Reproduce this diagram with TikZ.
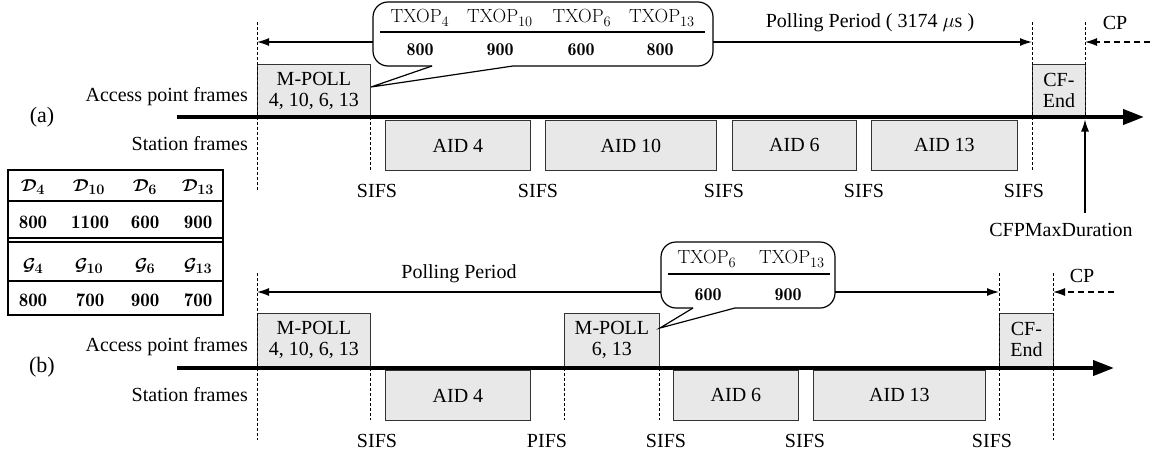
\documentclass[tikz,border=0pt]{standalone}
\usepackage{fontspec}
\setmainfont{Liberation Serif}
\usetikzlibrary{arrows.meta}
\newcommand{\lmf}{\fontfamily{lmr}\selectfont}
\begin{document}
\begin{tikzpicture}[x=1pt,y=-1pt,
  txt/.style={font=\fontsize{20}{21}\selectfont, inner sep=0pt},
  frame/.style={draw=black!80, fill=black!9, line width=0.9pt, inner sep=0pt, align=center,
     font=\fontsize{20}{21}\selectfont, anchor=north west},
  dsh/.style={dash pattern=on 3pt off 2pt, line width=0.8pt},
  axisln/.style={line width=4pt, -{Triangle[length=21pt,width=15pt]}},
  arr/.style={line width=1.2pt, -{Latex[length=12pt,width=8pt]}},
  dasharr/.style={line width=1.2pt, dash pattern=on 6pt off 4pt, -{Latex[length=12pt,width=8pt]}},
  bubble/.style={line width=1.2pt, rounded corners=15pt},
  lmtxt/.style={font=\lmf\fontsize{19}{21}\selectfont, inner sep=0pt},
  lmnum/.style={font=\lmf\fontseries{b}\fontsize{18}{20}\selectfont, inner sep=0pt},
  tabm/.style={font=\lmf\fontsize{19}{21}\selectfont\boldmath, inner sep=0pt},
  tabn/.style={font=\lmf\fontseries{b}\fontsize{19}{21}\selectfont, inner sep=0pt},
]
\useasboundingbox (0,0) rectangle (1154,458);

%%%%%%%%%%%%%%%%%%%% (a)
\node[txt] (la) at (42,117) {\fontsize{22}{24}\selectfont (a)};
\node[txt, anchor=east] (apa) at (248,97) {Access point frames};
\node[txt, anchor=east] (sta) at (248,144) {Station frames};

% frames
\node[frame, minimum width=113pt, minimum height=52pt] (mpa) at (257,64) {M-POLL\\4, 10, 6, 13};
\node[frame, minimum width=53pt, minimum height=52pt] (cfa) at (1032,64) {CF-\\End};
\node[frame, minimum width=145pt, minimum height=50pt] (a4a) at (385,120) {AID 4};
\node[frame, minimum width=171pt, minimum height=50pt] (a10a) at (545,120) {AID 10};
\node[frame, minimum width=124pt, minimum height=50pt] (a6a) at (732,120) {AID 6};
\node[frame, minimum width=146pt, minimum height=50pt] (a13a) at (871,120) {AID 13};

% dashed guides
\coordinate (da1t) at (257,22); \coordinate (da1b) at (257,190);
\coordinate (da2t) at (370,117); \coordinate (da2b) at (370,170);
\coordinate (da3t) at (1032,22); \coordinate (da3b) at (1032,170);
\coordinate (da4t) at (1085,22); \coordinate (da4b) at (1085,117);
\draw[dsh] (da1t) -- (da1b);
\draw[dsh] (da2t) -- (da2b);
\draw[dsh] (da3t) -- (da3b);
\draw[dsh] (da4t) -- (da4b);

% axis
\coordinate (axa0) at (177,117); \coordinate (axa1) at (1144,117);
\draw[axisln] (axa0) -- (axa1);

% SIFS labels
\node[txt] (sa1) at (377,191) {SIFS};
\node[txt] (sa2) at (538,191) {SIFS};
\node[txt] (sa3) at (724,191) {SIFS};
\node[txt] (sa4) at (864,191) {SIFS};
\node[txt] (sa5) at (1024,191) {SIFS};

% CFPMaxDuration
\node[txt] (cfpmax) at (1061,230) {CFPMaxDuration};
\coordinate (cfpb) at (1085,213); \coordinate (cfpt) at (1085,119.5);
\draw[arr] (cfpb) -- (cfpt);

% CP
\node[txt] (cpa) at (1115,23) {CP};
\coordinate (cpa0) at (1150,42); \coordinate (cpa1) at (1085,42);
\draw[dasharr] (cpa0) -- (cpa1);

% callout (a)
\draw[bubble] (432,66) -- (373,66) -- (373,2) -- (713,2) -- (713,66) -- (513,66);
\draw[line width=1.2pt, line join=miter] (432,66) -- (371,87) -- (513,66);
\draw[line width=1.2pt] (380,32) -- (705,32);
\node[lmtxt] (ta1) at (420,18) {TXOP$_{4}$};
\node[lmtxt] (ta2) at (500,18) {TXOP$_{10}$};
\node[lmtxt] (ta3) at (582,18) {TXOP$_{6}$};
\node[lmtxt] (ta4) at (662,18) {TXOP$_{13}$};
\node[lmnum] (va1) at (420,50) {800};
\node[lmnum] (va2) at (500,50) {900};
\node[lmnum] (va3) at (581,50) {600};
\node[lmnum] (va4) at (660,50) {800};

% polling period (a)
\node[txt] (ppa) at (870,23) {Polling Period ( 3174 $\mu$s )};
\coordinate (ppal) at (373,42); \coordinate (ppar) at (713,42);
\draw[arr] (ppal) -- (da1t |- ppal);
\draw[arr] (ppar) -- (da3t |- ppar);

%%%%%%%%%%%%%%%%%%%% table
\draw[line width=1.2pt] (8,170) rectangle (223,315);
\draw[line width=1.2pt] (8,201) -- (223,201);
\draw[line width=1.2pt] (8,238) -- (223,238);
\draw[line width=1.2pt] (8,242) -- (223,242);
\draw[line width=1.2pt] (8,281) -- (223,281);
\node[tabm] (d1) at (33,187) {$\mathcal{D}_{4}$};
\node[tabm] (d2) at (89,187) {$\mathcal{D}_{10}$};
\node[tabm] (d3) at (145,187) {$\mathcal{D}_{6}$};
\node[tabm] (d4) at (198,187) {$\mathcal{D}_{13}$};
\node[tabn] (e1) at (33,222) {800};
\node[tabn] (e2) at (90,222) {1100};
\node[tabn] (e3) at (145,222) {600};
\node[tabn] (e4) at (198,222) {900};
\node[tabm] (g1) at (33,266) {$\mathcal{G}_{4}$};
\node[tabm] (g2) at (89,266) {$\mathcal{G}_{10}$};
\node[tabm] (g3) at (145,266) {$\mathcal{G}_{6}$};
\node[tabm] (g4) at (198,266) {$\mathcal{G}_{13}$};
\node[tabn] (h1) at (33,300) {800};
\node[tabn] (h2) at (90,300) {700};
\node[tabn] (h3) at (145,300) {900};
\node[tabn] (h4) at (198,300) {700};

%%%%%%%%%%%%%%%%%%%% (b)
\node[txt] (lb) at (42,367) {\fontsize{22}{24}\selectfont (b)};
\node[txt, anchor=east] (apb) at (248,347) {Access point frames};
\node[txt, anchor=east] (stb) at (248,395) {Station frames};

\node[frame, minimum width=113pt, minimum height=53pt] (mpb1) at (257,313) {M-POLL\\4, 10, 6, 13};
\node[frame, minimum width=95pt, minimum height=53pt] (mpb2) at (564,313) {M-POLL\\6, 13};
\node[frame, minimum width=54pt, minimum height=53pt] (cfb) at (999,313) {CF-\\End};
\node[frame, minimum width=145pt, minimum height=50pt] (a4b) at (385,370) {AID 4};
\node[frame, minimum width=125pt, minimum height=50pt] (a6b) at (673,370) {AID 6};
\node[frame, minimum width=172pt, minimum height=50pt] (a13b) at (813,370) {AID 13};

\coordinate (db1t) at (257,273); \coordinate (db1b) at (257,440);
\coordinate (db2t) at (370,368); \coordinate (db2b) at (370,420);
\coordinate (db3t) at (564,368); \coordinate (db3b) at (564,420);
\coordinate (db4t) at (659,368); \coordinate (db4b) at (659,420);
\coordinate (db5t) at (999,273); \coordinate (db5b) at (999,420);
\coordinate (db6t) at (1053,273); \coordinate (db6b) at (1053,440);
\draw[dsh] (db1t) -- (db1b);
\draw[dsh] (db2t) -- (db2b);
\draw[dsh] (db3t) -- (db3b);
\draw[dsh] (db4t) -- (db4b);
\draw[dsh] (db5t) -- (db5b);
\draw[dsh] (db6t) -- (db6b);

\coordinate (axb0) at (177,368); \coordinate (axb1) at (1114,368);
\draw[axisln] (axb0) -- (axb1);

\node[txt] (sb1) at (377,441) {SIFS};
\node[txt] (sb2) at (547,441) {PIFS};
\node[txt] (sb3) at (666,441) {SIFS};
\node[txt] (sb4) at (805,441) {SIFS};
\node[txt] (sb5) at (992,441) {SIFS};

% CP (b)
\node[txt] (cpb) at (1082,276) {CP};
\coordinate (cpb0) at (1114,292); \coordinate (cpb1) at (1053,292);
\draw[dasharr] (cpb0) -- (cpb1);

% callout (b)
\draw[bubble] (693,308) -- (661,308) -- (661,242) -- (835,242) -- (835,308) -- (735,308);
\draw[line width=1.2pt, line join=miter] (693,308) -- (660,328) -- (735,308);
\draw[line width=1.2pt] (668,274) -- (830,274);
\node[lmtxt] (tb1) at (707,259) {TXOP$_{6}$};
\node[lmtxt] (tb2) at (792,259) {TXOP$_{13}$};
\node[lmnum] (vb1) at (708,295) {600};
\node[lmnum] (vb2) at (788,295) {900};

% polling period (b)
\node[txt] (ppb) at (459,274) {Polling Period};
\coordinate (ppbl) at (661,292); \coordinate (ppbr) at (835,292);
\draw[arr] (ppbl) -- (db1t |- ppbl);
\draw[arr] (ppbr) -- (db5t |- ppbr);
\end{tikzpicture}
\end{document}
